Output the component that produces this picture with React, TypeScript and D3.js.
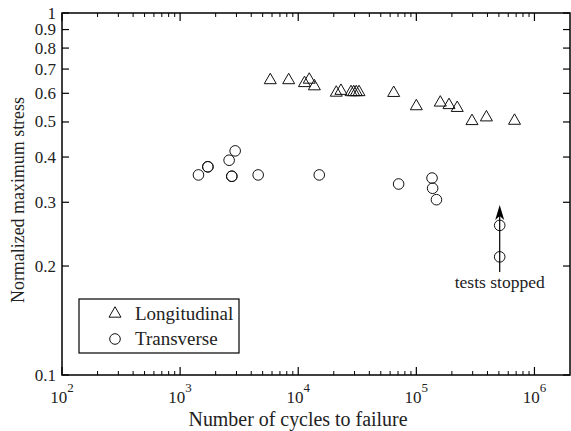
import React from "react";
import * as d3 from "d3";

const longCycles = [5800, 8300, 11300, 12400, 13700, 21000, 23000, 28000, 29500, 31000, 32700, 64300, 100000, 159500, 189000, 222000, 296000, 392000, 678000];
const longStress = [0.655, 0.655, 0.643, 0.657, 0.63, 0.605, 0.612, 0.607, 0.607, 0.607, 0.607, 0.604, 0.555, 0.568, 0.559, 0.549, 0.505, 0.517, 0.506];

const transCycles = [1430, 1718, 1718, 2600, 2925, 2740, 2740, 4580, 15070, 70800, 135800, 137400, 148000, 508000, 508000];
const transStress = [0.357, 0.376, 0.376, 0.392, 0.416, 0.354, 0.354, 0.357, 0.357, 0.337, 0.35, 0.328, 0.305, 0.259, 0.212];

const yTicks = [0.1, 0.2, 0.3, 0.4, 0.5, 0.6, 0.7, 0.8, 0.9, 1];
const yTickLabels = ["0.1", "0.2", "0.3", "0.4", "0.5", "0.6", "0.7", "0.8", "0.9", "1"];
const xMajor = [100, 1000, 10000, 100000, 1000000];
const xMajorExp = ["2", "3", "4", "5", "6"];

const arrowFrom = [508000, 0.1925];
const arrowTo = [508000, 0.295];

const FONT = "'Liberation Serif', 'Times New Roman', serif";

export default function App() {
  const W = 571, H = 431;
  const left = 62, right = 570, top = 13, bottom = 375;
  const x = d3.scaleLog().domain([100, 2e6]).range([left, right]);
  const y = d3.scaleLog().domain([0.1, 1]).range([bottom, top]);

  const minor: number[] = [];
  for (let k = 2; k <= 6; k++) {
    for (let m = 2; m <= 9; m++) {
      const v = m * Math.pow(10, k);
      if (v < 2e6) minor.push(v);
    }
  }

  const tri = (cx: number, cy: number, s: number) => {
    const h = s * 0.87;
    return `M${cx},${cy - h * 0.6}L${cx + s / 2},${cy + h * 0.4}L${cx - s / 2},${cy + h * 0.4}Z`;
  };

  const ax = x(arrowFrom[0]);
  const ay1 = y(arrowFrom[1]);
  const ay2 = y(arrowTo[1]);

  return (
    <svg width={W} height={H} style={{ position: "absolute", left: 0, top: 0, background: "#fff" }} fontFamily={FONT}>
      <rect x={0} y={0} width={W} height={H} fill="#fff" />
      <rect x={left} y={top} width={right - left} height={bottom - top} fill="none" stroke="#000" strokeWidth={1.5} />
      {yTicks.map((t, i) => (
        <g key={"yt" + i}>
          <line x1={left} x2={left + 7} y1={y(t)} y2={y(t)} stroke="#000" strokeWidth={1.2} />
          <line x1={right} x2={right - 7} y1={y(t)} y2={y(t)} stroke="#000" strokeWidth={1.2} />
          <text x={left - 6} y={y(t) + 5.5} textAnchor="end" fontSize={17} fill="#222">{yTickLabels[i]}</text>
        </g>
      ))}
      {xMajor.map((t, i) => (
        <g key={"xm" + i}>
          <line x1={x(t)} x2={x(t)} y1={bottom} y2={bottom - 8} stroke="#000" strokeWidth={1.2} />
          <line x1={x(t)} x2={x(t)} y1={top} y2={top + 8} stroke="#000" strokeWidth={1.2} />
          <text x={x(t)} y={403} textAnchor="middle" fontSize={17} fill="#222">
            10<tspan dy={-11} fontSize={13}>{xMajorExp[i]}</tspan>
          </text>
        </g>
      ))}
      {minor.map((t, i) => (
        <g key={"xn" + i}>
          <line x1={x(t)} x2={x(t)} y1={bottom} y2={bottom - 4} stroke="#000" strokeWidth={1} />
          <line x1={x(t)} x2={x(t)} y1={top} y2={top + 4} stroke="#000" strokeWidth={1} />
        </g>
      ))}
      {longCycles.map((c, i) => (
        <path key={"l" + i} d={tri(x(c), y(longStress[i]), 12)} fill="none" stroke="#111" strokeWidth={1} />
      ))}
      {transCycles.map((c, i) => (
        <circle key={"t" + i} cx={x(c)} cy={y(transStress[i])} r={5.3} fill="none" stroke="#111" strokeWidth={1} />
      ))}
      <line x1={ax} x2={ax} y1={ay1} y2={ay2 + 8} stroke="#000" strokeWidth={1.2} />
      <path d={`M${ax},${ay2}L${ax + 4.5},${ay2 + 15}L${ax},${ay2 + 11}L${ax - 4.5},${ay2 + 15}Z`} fill="#000" />
      <text x={ax} y={288} textAnchor="middle" fontSize={17.5} fill="#222">tests stopped</text>
      <rect x={79} y={299} width={160} height={54} fill="#fff" stroke="#000" strokeWidth={1.2} />
      <path d={tri(115, 313, 12)} fill="none" stroke="#111" strokeWidth={1} />
      <text x={135} y={320} fontSize={19} fill="#222">Longitudinal</text>
      <circle cx={115} cy={339} r={5.3} fill="none" stroke="#111" strokeWidth={1} />
      <text x={135} y={345} fontSize={19} fill="#222">Transverse</text>
      <text x={188.5} y={426} fontSize={20} fill="#222" textLength={219} lengthAdjust="spacingAndGlyphs">Number of cycles to failure</text>
      <text transform={`translate(24,303) rotate(-90)`} fontSize={18.5} fill="#222" textLength={206} lengthAdjust="spacingAndGlyphs">Normalized maximum stress</text>
    </svg>
  );
}
